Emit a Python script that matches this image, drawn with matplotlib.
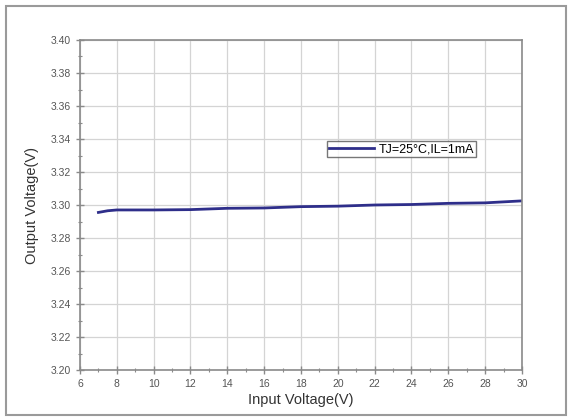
import matplotlib
matplotlib.use("Agg")
import matplotlib.pyplot as plt
from matplotlib.patches import Rectangle
from matplotlib.ticker import MultipleLocator

# line regulation data
vin = [7.0, 7.5, 8, 10, 12, 14, 16, 18, 20, 22, 24, 26, 28, 30]
vout = [3.2955, 3.2965, 3.2970, 3.2970, 3.2972, 3.2980, 3.2982,
        3.2990, 3.2993, 3.3000, 3.3003, 3.3010, 3.3013, 3.3025]
series_label = "TJ=25°C,IL=1mA"

plt.rcParams['font.family'] = ['Liberation Sans', 'DejaVu Sans']

fig = plt.figure(figsize=(5.72, 4.2), dpi=100)
ax = fig.add_axes([80 / 572, 1 - 370 / 420, 442 / 572, 330 / 420])

# outer grey frame
fig.patches.append(Rectangle((6 / 572, 5 / 420), 560 / 572, 409 / 420,
                             transform=fig.transFigure, fill=False,
                             edgecolor='#9a9a9a', linewidth=1.5))

ax.plot(vin, vout, color='#2e2e8a', linewidth=2.0, label=series_label)

ax.set_xlim(6, 30)
ax.set_ylim(3.20, 3.40)
ax.xaxis.set_major_locator(MultipleLocator(2))
ax.xaxis.set_minor_locator(MultipleLocator(1))
ax.yaxis.set_major_locator(MultipleLocator(0.02))
ax.yaxis.set_minor_locator(MultipleLocator(0.01))
ax.yaxis.set_major_formatter(matplotlib.ticker.FormatStrFormatter('%.2f'))

ax.grid(True, which='major', color='#d4d4d4', linewidth=0.9)
ax.set_axisbelow(True)
for s in ax.spines.values():
    s.set_color('#8a8a8a')
    s.set_linewidth(1.2)

ax.tick_params(which='major', direction='inout', length=6, width=1,
               color='#8a8a8a', labelsize=7.5, labelcolor='#555555')
ax.tick_params(which='minor', direction='inout', length=3, width=0.8,
               color='#8a8a8a')

ax.set_xlabel('Input Voltage(V)', fontsize=10.5, color='#333333', labelpad=3)
ax.set_ylabel('Output Voltage(V)', fontsize=10.5, color='#333333', labelpad=8)

leg = ax.legend(loc='upper left', bbox_to_anchor=(0.545, 0.712), fontsize=9,
                frameon=True, fancybox=False, borderpad=0.15,
                handlelength=3.6, handletextpad=0.35)
leg.get_frame().set_edgecolor('#555555')
leg.get_frame().set_linewidth(1)

fig.savefig('out.png', dpi=100)
